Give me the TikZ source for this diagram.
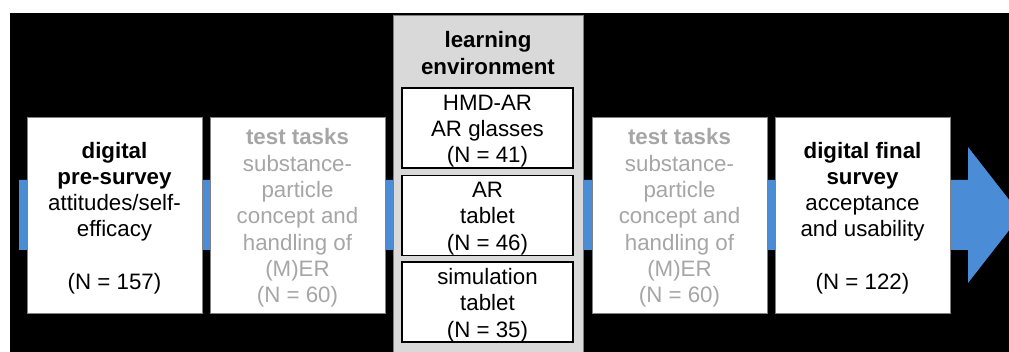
\documentclass[tikz,border=0pt]{standalone}
\usepackage{fontspec}
\setmainfont{Liberation Sans}
\definecolor{arrowblue}{RGB}{74,140,214}
\definecolor{envgray}{RGB}{217,217,217}
\definecolor{lighttext}{RGB}{166,166,166}
\definecolor{boxedge}{RGB}{128,128,128}
\newcommand\boxfont{\fontsize{22.3}{26.3}\selectfont}
\begin{document}
\begin{tikzpicture}[x=1pt,y=-1pt,
  txt/.style={font=\boxfont, align=center, inner sep=0pt},
  stagebox/.style={draw=boxedge, line width=0.8pt, fill=white, minimum width=175pt, minimum height=196pt, inner sep=0pt},
  faded/.style={text=lighttext},
  condbox/.style={draw=black, line width=1.5pt, fill=white, minimum width=171pt, minimum height=80pt, inner sep=0pt}]
\useasboundingbox (0,0) rectangle (1009,352);
\fill[white] (0,0) rectangle (1009,352);
\fill[black] (10,13) rectangle (1009,352);
\begin{scope}
\clip (0,0) rectangle (1009,352);
\fill[arrowblue] (19,180) -- (968,180) -- (968,147) -- (1021,215) -- (968,283) -- (968,250) -- (19,250) -- cycle;
\node[draw=boxedge, fill=envgray, line width=0.8pt, minimum width=190pt, minimum height=350pt, anchor=north, inner sep=0pt] (env) at (488,15) {};
\end{scope}
\node[txt] (envtitle) at (488,53) {\textbf{learning}\\\textbf{environment}};
% condition boxes
\node[condbox] (hmd) at (487.5,128) {};
\node[condbox] (artab) at (487.5,215.5) {};
\node[condbox] (simtab) at (487.5,302) {};
\node[txt] (hmdtext) at ([yshift=-3pt]hmd.center) {HMD-AR\\AR glasses\\(N = 41)};
\node[txt] (artabtext) at ([yshift=-3pt]artab.center) {AR\\tablet\\(N = 46)};
\node[txt] (simtabtext) at ([yshift=-3pt]simtab.center) {simulation\\tablet\\(N = 35)};
% stage boxes
\node[stagebox] (pre) at (114.5,215) {};
\node[stagebox] (test1) at (297.5,215) {};
\node[stagebox] (test2) at (679.5,215) {};
\node[stagebox] (final) at (862.5,215) {};
\node[txt] (pretext) at ([yshift=-3pt]pre.center) {\textbf{digital}\\\textbf{pre-survey}\\attitudes/self-\\efficacy\\[26.3pt](N = 157)};
\node[txt, faded] (test1text) at ([yshift=-3pt]test1.center) {\textbf{test tasks}\\substance-\\particle\\concept and\\handling of\\(M)ER\\(N = 60)};
\node[txt, faded] (test2text) at ([yshift=-3pt]test2.center) {\textbf{test tasks}\\substance-\\particle\\concept and\\handling of\\(M)ER\\(N = 60)};
\node[txt] (finaltext) at ([yshift=-3pt]final.center) {\textbf{digital final}\\\textbf{survey}\\acceptance\\and usability\\[26.3pt](N = 122)};
\end{tikzpicture}
\end{document}
